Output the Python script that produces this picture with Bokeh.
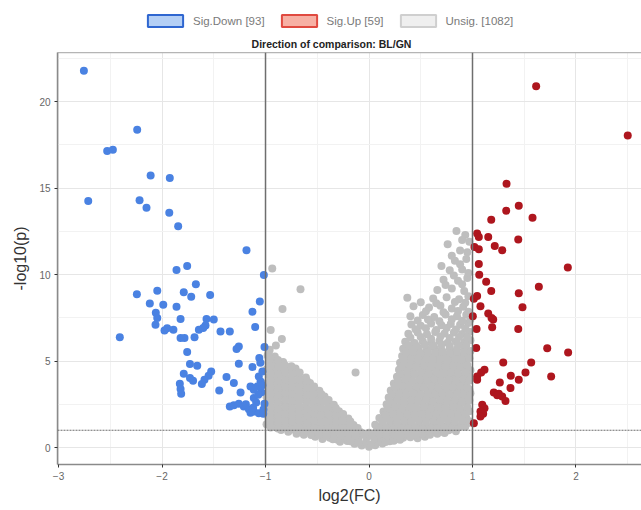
from bokeh.plotting import figure
from bokeh.layouts import column
from bokeh.models import (Span, Label, Legend, LegendItem, LinearAxis,
                          FixedTicker, Range1d)
from bokeh.embed import file_html
from bokeh.resources import INLINE

# ---- data: log2 fold change and -log10(p) per feature ----
down_fc = [-2.755, -2.24, -2.53, -2.475, -2.11, -1.925, -2.713, -2.217, -2.15, -1.93,
           -1.844, -1.184, -1.86, -1.757, -1.016, -1.673, -2.243, -2.046, -1.79, -1.718,
           -1.535, -1.055, -2.118, -1.988, -1.86, -1.126, -2.06, -2.046, -2.063, -1.821,
           -1.57, -1.5, -1.58, -1.95, -1.89, -1.976, -1.644, -1.602, -1.435, -1.345,
           -1.1, -2.408, -1.821, -1.783, -1.686, -1.258, -1.28, -1.01, -1.757, -1.06,
           -1.258, -1.73, -1.66, -1.126, -1.525, -1.55, -1.59, -1.615, -1.79, -1.73,
           -1.7, -1.377, -1.065, -1.048, -1.08, -1.113, -1.306, -1.828, -1.821, -1.815,
           -1.447, -1.241, -1.145, -1.113, -1.01, -1.345, -1.306, -1.258, -1.21, -1.161,
           -1.113, -1.065, -1.022, -1.145, -1.03, -1.04, -1.02, -1.09, -1.05, -1.19,
           -1.07, -1.12, -1.03]
down_p = [21.79, 18.38, 17.16, 17.22, 15.73, 15.59, 14.26, 14.31, 13.87, 13.58,
          12.8, 11.41, 10.27, 10.5, 9.98, 9.45, 8.86, 9.07, 8.99, 8.72,
          8.82, 8.45, 8.33, 8.26, 8.14, 7.85, 7.79, 7.5, 7.11, 7.44,
          7.44, 7.4, 7.06, 6.9, 6.82, 6.77, 6.82, 6.92, 6.71, 6.71,
          6.98, 6.38, 6.34, 6.34, 6.38, 5.85, 5.7, 5.82, 5.53, 5.18,
          4.85, 4.83, 4.73, 4.66, 4.4, 4.15, 3.92, 3.67, 4.27, 4.02,
          3.86, 4.08, 4.11, 3.82, 3.53, 3.34, 3.73, 3.69, 3.38, 3.11,
          3.3, 3.18, 3.53, 2.86, 2.53, 2.37, 2.45, 2.53, 2.37, 2.22,
          2.08, 1.99, 1.95, 2.02, 4.4, 3.2, 2.2, 2.6, 4.9, 2.5,
          3.05, 2.3, 3.6]

up_fc = [1.615, 2.5, 1.329, 1.447, 1.326, 1.58, 1.181, 1.045, 1.061, 1.152,
         1.442, 1.215, 1.287, 1.019, 1.061, 1.921, 1.061, 1.065, 1.132, 1.181,
         1.641, 1.447, 1.013, 1.045, 1.077, 1.483, 1.003, 1.152, 1.184, 1.2,
         1.19, 1.039, 1.442, 1.036, 1.722, 1.924, 1.297, 1.567, 1.116, 1.084,
         1.045, 1.045, 1.512, 1.37, 1.76, 1.447, 1.264, 1.367, 1.206, 1.254,
         1.287, 1.319, 1.239, 1.094, 1.116, 1.077, 1.103, 1.077, 1.013]
up_p = [20.9, 18.05, 15.26, 13.98, 13.69, 13.29, 13.17, 12.38, 12.18, 12.18,
        12.03, 11.66, 11.41, 11.6, 11.47, 10.42, 10.62, 10.0, 9.59, 9.05,
        9.3, 8.93, 8.6, 8.76, 8.18, 8.12, 7.6, 7.75, 7.5, 7.4,
        6.96, 6.86, 6.86, 5.76, 5.74, 5.5, 4.92, 4.92, 4.5, 4.34,
        4.11, 3.92, 4.34, 4.15, 4.11, 3.92, 3.76, 3.44, 3.18, 3.11,
        2.95, 2.7, 3.03, 2.47, 2.28, 2.08, 1.95, 1.79, 1.4]

unsig_fc = [
    -0.21, -0.14, -0.07, 0.0, 0.06, 0.13, 0.2, -0.03, 0.09,
    -0.52, -0.45, -0.38, -0.31, -0.24, -0.17, -0.1, -0.02, 0.05, 0.12, 0.19, 0.26, 0.33, 0.4, 0.47, 0.54,
    -0.85, -0.78, -0.71, -0.64, -0.57, -0.5, -0.43, -0.36, -0.29, -0.22, -0.15, -0.08, 0.0, 0.07,
    0.14, 0.21, 0.28, 0.35, 0.42, 0.49, 0.56, 0.63, 0.7, 0.77, 0.84,
    -0.99, -0.92, -0.85, -0.78, -0.71, -0.64, -0.57, -0.5, -0.43, -0.36, -0.29, -0.22, -0.15,
    0.06, 0.13, 0.2, 0.27, 0.34, 0.41, 0.48, 0.55, 0.62, 0.69, 0.76, 0.83, 0.9, 0.96,
    -0.97, -0.9, -0.83, -0.76, -0.69, -0.62, -0.55, -0.48, -0.41, -0.34, -0.27, -0.2,
    0.1, 0.17, 0.24, 0.31, 0.38, 0.45, 0.52, 0.59, 0.66, 0.73, 0.8, 0.87, 0.94,
    -0.99, -0.92, -0.85, -0.78, -0.71, -0.64, -0.57, -0.5, -0.43, -0.36, -0.29,
    0.14, 0.21, 0.28, 0.35, 0.42, 0.49, 0.56, 0.63, 0.7, 0.77, 0.84, 0.91, 0.97,
    -0.96, -0.89, -0.82, -0.75, -0.68, -0.61, -0.54, -0.47, -0.4, -0.34,
    0.17, 0.24, 0.31, 0.38, 0.45, 0.52, 0.59, 0.66, 0.73, 0.8, 0.87, 0.94,
    -0.99, -0.92, -0.85, -0.78, -0.71, -0.64, -0.57, -0.5, -0.43,
    0.19, 0.26, 0.33, 0.4, 0.47, 0.54, 0.61, 0.68, 0.75, 0.82, 0.89, 0.96,
    -0.97, -0.9, -0.83, -0.76, -0.69, -0.62, -0.55, -0.48,
    0.21, 0.28, 0.35, 0.42, 0.49, 0.56, 0.63, 0.7, 0.77, 0.84, 0.91, 0.97,
    -0.99, -0.92, -0.85, -0.78, -0.71, -0.64, -0.57,
    0.24, 0.31, 0.38, 0.45, 0.52, 0.59, 0.66, 0.73, 0.8, 0.87, 0.94,
    -0.96, -0.89, -0.82, -0.75, -0.68, -0.61,
    0.27, 0.34, 0.41, 0.48, 0.55, 0.62, 0.69, 0.76, 0.83, 0.9, 0.97,
    -0.99, -0.92, -0.85, -0.78, -0.71,
    0.29, 0.36, 0.43, 0.5, 0.57, 0.64, 0.71, 0.78, 0.85, 0.92, 0.98,
    -0.97, -0.9, -0.83,
    0.3, 0.37, 0.44, 0.51, 0.58, 0.65, 0.72, 0.79, 0.86, 0.93,
    -0.98, -0.91,
    0.32, 0.39, 0.46, 0.53, 0.6, 0.67, 0.74, 0.81, 0.88, 0.95,
    -0.96, 0.33, 0.41, 0.48, 0.56, 0.63, 0.7, 0.78, 0.85, 0.92,
    0.35, 0.44, 0.52, 0.6, 0.68, 0.76, 0.84, 0.92, 0.98,
    0.38, 0.47, 0.56, 0.64, 0.73, 0.82, 0.9, 0.97,
    0.41, 0.5, 0.6, 0.7, 0.79, 0.88, 0.96,
    0.4, 0.52, 0.63, 0.74, 0.85, 0.94,
    0.43, 0.58, 0.69, 0.8, 0.91,
    0.37, 0.62, 0.75, 0.87, 0.96,
    0.66, 0.8, 0.92, 0.72, 0.86, 0.95, 0.78, 0.9, 0.83, 0.94, 0.76, 0.88, 0.97, 0.845, 0.93,
    -0.935, -0.662, -0.836, -0.842, -0.13, -0.95, -0.9,
    -0.35, -0.28, -0.18, -0.1, 0.02, 0.16, 0.24, 0.3,
    -0.7, -0.63, -0.56, -0.48, -0.41, -0.34, -0.27, -0.2, -0.13, -0.05, 0.03,
    0.1, 0.17, 0.24, 0.31, 0.38, 0.45, 0.52, 0.59, 0.66, 0.73,
    -0.95, -0.88, -0.81, -0.74, -0.67, -0.6, -0.53, -0.46, -0.39, -0.32, -0.25, -0.18, -0.11,
    0.1, 0.17, 0.24, 0.31, 0.38, 0.45, 0.52, 0.59, 0.66, 0.73, 0.8, 0.87, 0.93,
    -0.95, -0.88, -0.81, -0.74, -0.67, -0.6, -0.53, -0.46, -0.39, -0.32, -0.25, -0.18,
    0.13, 0.2, 0.27, 0.34, 0.41, 0.48, 0.55, 0.62, 0.69, 0.76, 0.83, 0.9, 0.97,
    -0.95, -0.88, -0.81, -0.74, -0.67, -0.6, -0.53, -0.46, -0.39, -0.32, -0.25,
    0.16, 0.23, 0.3, 0.37, 0.44, 0.51, 0.58, 0.65, 0.72, 0.79, 0.86, 0.93,
    -0.95, -0.88, -0.81, -0.74, -0.67, -0.6, -0.53, -0.46, -0.39, -0.32,
    0.18, 0.25, 0.32, 0.39, 0.46, 0.53, 0.6, 0.67, 0.74, 0.81, 0.88, 0.95,
    -0.95, -0.88, -0.81, -0.74, -0.67, -0.6, -0.53, -0.46, -0.39,
    0.2, 0.27, 0.34, 0.41, 0.48, 0.55, 0.62, 0.69, 0.76, 0.83, 0.9, 0.97,
    -0.95, -0.88, -0.81, -0.74, -0.67, -0.6, -0.53, -0.46,
    0.22, 0.29, 0.36, 0.43, 0.5, 0.57, 0.64, 0.71, 0.78, 0.85, 0.92, 0.98,
    -0.95, -0.88, -0.81, -0.74, -0.67, -0.6, -0.53,
    0.25, 0.32, 0.39, 0.46, 0.53, 0.6, 0.67, 0.74, 0.81, 0.88, 0.95,
    -0.95, -0.88, -0.81, -0.74, -0.67, -0.6,
    0.28, 0.35, 0.42, 0.49, 0.56, 0.63, 0.7, 0.77, 0.84, 0.91, 0.97,
    -0.95, -0.88, -0.81, -0.74, -0.67,
    0.3, 0.37, 0.44, 0.51, 0.58, 0.65, 0.72, 0.79, 0.86, 0.93,
    -0.95, -0.88, -0.81, -0.75,
    0.32, 0.39, 0.46, 0.53, 0.6, 0.67, 0.74, 0.81, 0.88, 0.95,
    -0.95, -0.88,
    0.34, 0.41, 0.48, 0.55, 0.62, 0.69, 0.76, 0.83, 0.9, 0.97,
    -0.97, 0.36, 0.43, 0.5, 0.57, 0.64, 0.71, 0.78, 0.85, 0.92, 0.98,
    0.38, 0.46, 0.54, 0.62, 0.7, 0.78, 0.86, 0.94,
    0.4, 0.5, 0.6, 0.69, 0.78, 0.87, 0.95,
    0.45, 0.55, 0.65, 0.75, 0.84, 0.93,
    0.47, 0.57, 0.68, 0.8, 0.9, 0.98,
    0.55, 0.72, 0.86, 0.96,
    0.5, 0.65, 0.83, 0.93,
    0.74, 0.9, 0.82, 0.96, 0.7, 0.88, 0.8, 0.95, 0.9,
]
unsig_p = [
    0.38, 0.22, 0.12, 0.05, 0.14, 0.24, 0.36, 0.3, 0.42,
    0.62, 0.5, 0.56, 0.47, 0.58, 0.5, 0.55, 0.6, 0.52, 0.6, 0.55, 0.49, 0.57, 0.6, 0.54, 0.63,
    1.02, 0.92, 0.98, 0.88, 0.95, 0.9, 0.99, 0.87, 0.94, 0.9, 0.97, 0.88, 0.85, 0.95,
    0.9, 0.98, 0.91, 0.96, 0.88, 0.97, 0.92, 0.99, 0.93, 1.0, 0.95,
    1.35, 1.28, 1.38, 1.3, 1.36, 1.26, 1.33, 1.4, 1.29, 1.37, 1.31, 1.38, 1.3,
    1.32, 1.4, 1.28, 1.36, 1.3, 1.39, 1.27, 1.35, 1.31, 1.4, 1.29, 1.37, 1.33, 1.42,
    1.72, 1.68, 1.77, 1.7, 1.78, 1.66, 1.74, 1.69, 1.79, 1.7, 1.76, 1.68,
    1.71, 1.78, 1.67, 1.75, 1.7, 1.79, 1.68, 1.76, 1.71, 1.8, 1.69, 1.77, 1.72,
    2.12, 2.05, 2.16, 2.08, 2.14, 2.04, 2.11, 2.18, 2.07, 2.15, 2.1,
    2.08, 2.16, 2.05, 2.13, 2.09, 2.17, 2.06, 2.14, 2.1, 2.18, 2.07, 2.15, 2.1,
    2.52, 2.46, 2.55, 2.48, 2.57, 2.45, 2.53, 2.49, 2.56, 2.47,
    2.5, 2.57, 2.46, 2.54, 2.49, 2.58, 2.47, 2.55, 2.5, 2.59, 2.48, 2.56,
    2.92, 2.86, 2.95, 2.88, 2.97, 2.85, 2.93, 2.89, 2.96,
    2.9, 2.97, 2.86, 2.94, 2.88, 2.96, 2.87, 2.95, 2.9, 2.98, 2.87, 2.94,
    3.32, 3.26, 3.35, 3.28, 3.37, 3.25, 3.33, 3.29,
    3.3, 3.37, 3.26, 3.34, 3.28, 3.36, 3.27, 3.35, 3.3, 3.38, 3.27, 3.34,
    3.72, 3.66, 3.75, 3.68, 3.77, 3.65, 3.73,
    3.7, 3.77, 3.66, 3.74, 3.68, 3.76, 3.67, 3.75, 3.7, 3.78, 3.67,
    4.12, 4.06, 4.15, 4.08, 4.17, 4.05,
    4.1, 4.17, 4.06, 4.14, 4.08, 4.16, 4.07, 4.15, 4.1, 4.18, 4.07,
    4.52, 4.46, 4.55, 4.48, 4.57,
    4.5, 4.57, 4.46, 4.54, 4.48, 4.56, 4.47, 4.55, 4.5, 4.58, 4.47,
    4.92, 4.86, 4.95,
    4.9, 4.97, 4.86, 4.94, 4.88, 4.96, 4.87, 4.95, 4.9, 4.98,
    5.32, 5.26,
    5.3, 5.37, 5.26, 5.34, 5.28, 5.36, 5.27, 5.35, 5.3, 5.38,
    5.66, 5.72, 5.66, 5.75, 5.68, 5.77, 5.65, 5.73, 5.69, 5.76,
    6.12, 6.05, 6.15, 6.08, 6.17, 6.06, 6.14, 6.1, 6.2,
    6.58, 6.65, 6.55, 6.68, 6.6, 6.66, 6.57, 6.7,
    7.12, 7.05, 7.18, 7.08, 7.15, 7.1, 7.2,
    7.6, 7.66, 7.55, 7.7, 7.6, 7.68,
    8.18, 8.1, 8.2, 8.05, 8.15,
    8.66, 8.62, 8.7, 8.58, 8.75,
    9.12, 9.2, 9.05, 9.7, 9.65, 9.8, 10.25, 10.3, 10.8, 10.9, 11.76, 11.4, 11.9, 12.53, 12.3,
    10.35, 9.15, 8.02, 6.28, 4.34, 6.8, 5.9,
    0.48, 0.33, 0.36, 0.28, 0.18, 0.32, 0.4, 0.45,
    0.8, 0.74, 0.72, 0.76, 0.7, 0.75, 0.71, 0.77, 0.7, 0.74, 0.7,
    0.77, 0.71, 0.76, 0.72, 0.78, 0.73, 0.79, 0.74, 0.8, 0.84,
    1.16, 1.1, 1.14, 1.08, 1.15, 1.1, 1.13, 1.09, 1.16, 1.1, 1.14, 1.08, 1.13,
    1.1, 1.15, 1.09, 1.14, 1.1, 1.16, 1.08, 1.13, 1.1, 1.16, 1.12, 1.17, 1.2,
    1.52, 1.48, 1.56, 1.5, 1.54, 1.47, 1.55, 1.5, 1.53, 1.48, 1.55, 1.5,
    1.5, 1.56, 1.48, 1.54, 1.5, 1.57, 1.49, 1.55, 1.5, 1.56, 1.49, 1.55, 1.52,
    1.92, 1.88, 1.95, 1.9, 1.94, 1.87, 1.95, 1.9, 1.93, 1.88, 1.94,
    1.9, 1.96, 1.88, 1.94, 1.9, 1.97, 1.89, 1.95, 1.9, 1.96, 1.89, 1.95,
    2.32, 2.27, 2.35, 2.3, 2.34, 2.26, 2.33, 2.29, 2.35, 2.28,
    2.3, 2.36, 2.27, 2.34, 2.29, 2.36, 2.28, 2.35, 2.3, 2.37, 2.28, 2.34,
    2.72, 2.67, 2.75, 2.7, 2.74, 2.66, 2.73, 2.69, 2.75,
    2.7, 2.76, 2.67, 2.74, 2.69, 2.76, 2.68, 2.75, 2.7, 2.77, 2.68, 2.74,
    3.12, 3.07, 3.15, 3.1, 3.14, 3.06, 3.13, 3.09,
    3.1, 3.16, 3.07, 3.14, 3.09, 3.16, 3.08, 3.15, 3.1, 3.17, 3.08, 3.14,
    3.52, 3.47, 3.55, 3.5, 3.54, 3.46, 3.53,
    3.5, 3.56, 3.47, 3.54, 3.49, 3.56, 3.48, 3.55, 3.5, 3.57, 3.48,
    3.92, 3.87, 3.95, 3.9, 3.94, 3.86,
    3.9, 3.96, 3.87, 3.94, 3.89, 3.96, 3.88, 3.95, 3.9, 3.97, 3.88,
    4.32, 4.27, 4.35, 4.3, 4.34,
    4.3, 4.36, 4.27, 4.34, 4.29, 4.36, 4.28, 4.35, 4.3, 4.37,
    4.72, 4.67, 4.75, 4.7,
    4.7, 4.76, 4.67, 4.74, 4.69, 4.76, 4.68, 4.75, 4.7, 4.77,
    5.12, 5.07,
    5.1, 5.16, 5.07, 5.14, 5.09, 5.16, 5.08, 5.15, 5.1, 5.17,
    5.5, 5.5, 5.56, 5.47, 5.54, 5.49, 5.56, 5.48, 5.55, 5.5, 5.58,
    5.92, 5.87, 5.95, 5.9, 5.96, 5.88, 5.94, 5.9,
    6.35, 6.4, 6.3, 6.42, 6.33, 6.4, 6.36,
    6.85, 6.9, 6.8, 6.92, 6.83, 6.9,
    7.35, 7.4, 7.3, 7.42, 7.33, 7.4,
    7.88, 7.82, 7.9, 7.85,
    8.4, 8.35, 8.42, 8.38,
    9.4, 9.45, 9.95, 10.1, 10.5, 10.6, 11.1, 11.3, 12.0,
]

x_ticks = [-3, -2, -1, 0, 1, 2]
y_ticks = [0, 5, 10, 15, 20]
fc_cutoff = 1.0
p_cutoff = 1.0

legend_labels = ["Sig.Down [93]", "Sig.Up [59]", "Unsig. [1082]"]
title_text = "Direction of comparison: BL/GN"

FONT = "Liberation Sans"
BLUE = "#4A82E2"
RED = "#AE161E"
GREY = "#BEBEBE"
W = 641
HEAD_H = 52
PANEL_LEFT = 57

# ---------------- header: legend and comparison title ----------------
# header coordinates are page pixels: x from the page's left, y up from the
# header's bottom edge
head = figure(width=W, height=HEAD_H, output_backend="svg", toolbar_location=None,
              x_range=Range1d(PANEL_LEFT, W), y_range=Range1d(0, HEAD_H),
              x_axis_type=None, y_axis_type=None, outline_line_color=None,
              min_border_left=PANEL_LEFT, min_border_right=0,
              min_border_top=0, min_border_bottom=0,
              background_fill_color="white", border_fill_color="white")
head.grid.visible = False

# legend key swatches (one row each, kept below the visible header area)
key = dict(left=[0], right=[1], top=[-20], bottom=[-21])
r_down = head.quad(**key, fill_color="#B4CFF5", line_color="#2F66D0", line_width=2)
r_up = head.quad(**key, fill_color="#F7B0A4", line_color="#E04A40", line_width=2)
r_uns = head.quad(**key, fill_color="#EFEFEF", line_color="#CFCFCF", line_width=2)

legend = Legend(items=[LegendItem(label=legend_labels[0], renderers=[r_down]),
                       LegendItem(label=legend_labels[1], renderers=[r_up]),
                       LegendItem(label=legend_labels[2], renderers=[r_uns])],
                orientation="horizontal", location=(143 - PANEL_LEFT, HEAD_H - 28),
                glyph_width=44, glyph_height=15, label_standoff=6,
                label_text_font=FONT, label_text_font_size="11.5px",
                label_text_color="#7A7A7A", label_height=15,
                spacing=12, padding=0, margin=0,
                border_line_color=None, background_fill_alpha=0)
head.add_layout(legend)

head.add_layout(Label(x=331, y=HEAD_H - 43, text=title_text, text_align="center",
                      text_baseline="middle", text_font=FONT,
                      text_font_size="10.5px", text_font_style="bold",
                      text_color="#222222"))

# ---------------- volcano panel ----------------
p = figure(width=W, height=510 - HEAD_H, output_backend="svg", toolbar_location=None,
           x_range=Range1d(-3.01, 2.633), y_range=Range1d(-0.98, 22.85),
           min_border_left=PANEL_LEFT, min_border_right=0, min_border_top=0,
           min_border_bottom=46, outline_line_color=None,
           background_fill_color="white", border_fill_color="white")

for g in (p.xgrid, p.ygrid):
    g.grid_line_color = "#E6E6E6"
    g.grid_line_width = 1
    g.minor_grid_line_color = "#F2F2F2"
    g.minor_grid_line_width = 1

p.xaxis.ticker = FixedTicker(ticks=x_ticks,
                             minor_ticks=[t + 0.5 for t in x_ticks] + [-3.5])
p.yaxis.ticker = FixedTicker(ticks=y_ticks,
                             minor_ticks=[t + 2.5 for t in y_ticks])

for ax in (p.xaxis, p.yaxis):
    ax.axis_line_color = "#8A8A8A"
    ax.axis_line_width = 1.5
    ax.major_tick_line_color = "#333333"
    ax.major_tick_out = 3
    ax.major_tick_in = 0
    ax.minor_tick_line_color = None
    ax.major_label_text_font = FONT
    ax.major_label_text_font_size = "10px"
    ax.major_label_text_color = "#666666"
    ax.major_label_standoff = 3
    ax.axis_label_text_font = FONT
    ax.axis_label_text_font_size = "16px"
    ax.axis_label_text_font_style = "normal"
    ax.axis_label_text_color = "#333333"

p.xaxis.axis_label = "log2(FC)"
p.yaxis.axis_label = "-log10(p)"
p.xaxis.axis_label_standoff = 4
p.yaxis.axis_label_standoff = 7

# top border of the panel
top = LinearAxis(ticker=FixedTicker(ticks=[]), axis_line_color="#B5B5B5",
                 axis_line_width=1.5, major_label_text_font_size="0px",
                 major_label_standoff=0, major_tick_out=0, major_tick_in=0,
                 minor_tick_line_color=None, major_tick_line_color=None)
p.add_layout(top, "above")

# cut-off lines
p.add_layout(Span(location=-fc_cutoff, dimension="height",
                  line_color="#6E6E6E", line_width=1.5))
p.add_layout(Span(location=fc_cutoff, dimension="height",
                  line_color="#6E6E6E", line_width=1.5))
p.add_layout(Span(location=p_cutoff, dimension="width",
                  line_color="#6E6E6E", line_width=1.2, line_dash="2 1"))

# points
p.scatter(unsig_fc, unsig_p, size=8, color=GREY, line_color=None)
p.scatter(down_fc, down_p, size=8, color=BLUE, line_color=None)
p.scatter(up_fc, up_p, size=8, color=RED, line_color=None)

open("out.html", "w").write(file_html(column(head, p, spacing=0), INLINE))
